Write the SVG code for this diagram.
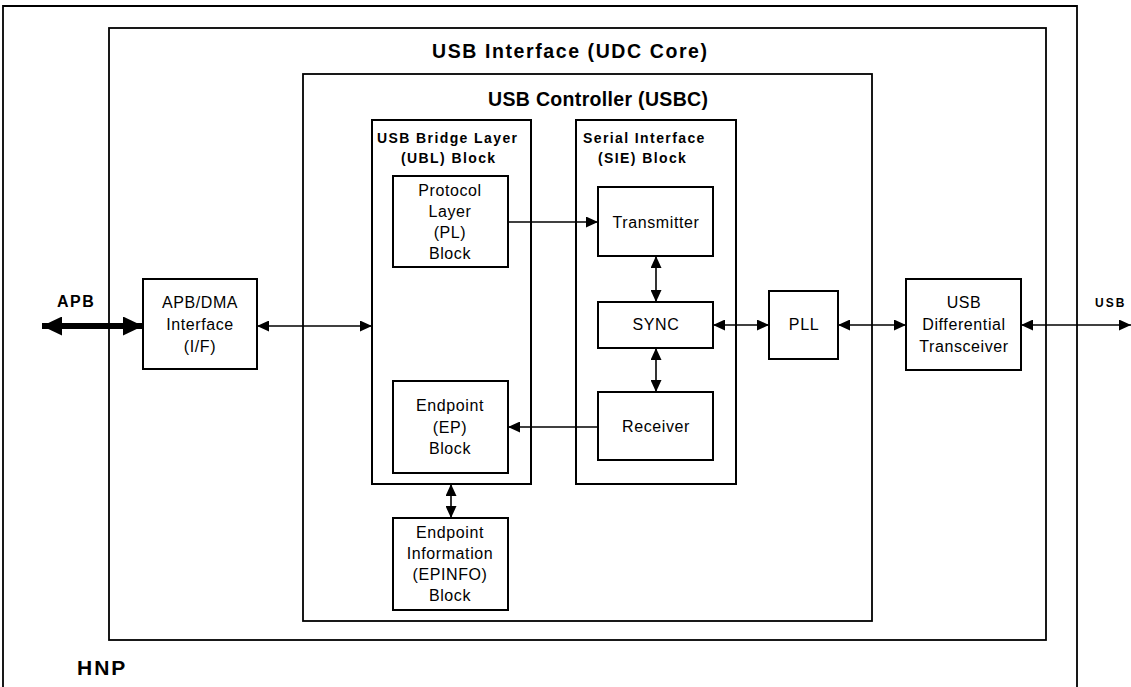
<svg xmlns="http://www.w3.org/2000/svg" width="1131" height="687" viewBox="0 0 1131 687">
<defs>
<style>
.box{fill:#fff;stroke:#000;stroke-width:2}
.frame{fill:none;stroke:#000;stroke-width:1.8}
.t{font-family:"Liberation Sans",Arial,sans-serif;font-size:16px;letter-spacing:0.6px;fill:#000;text-anchor:middle}
.h{font-family:"Liberation Sans",Arial,sans-serif;font-size:19.5px;font-weight:bold;fill:#000}
.b{font-family:"Liberation Sans",Arial,sans-serif;font-size:14px;font-weight:bold;fill:#000;letter-spacing:1.4px}
.c{fill:none;stroke:#000;stroke-width:1.6}
</style>
<marker id="ah" viewBox="0 0 12 11" refX="12" refY="5.5" markerWidth="12" markerHeight="11" markerUnits="userSpaceOnUse" orient="auto-start-reverse">
<path d="M0,0 L12,5.5 L0,11 z" fill="#000"/>
</marker>
<marker id="ahb" viewBox="0 0 20 19" refX="20" refY="9.5" markerWidth="20" markerHeight="19" markerUnits="userSpaceOnUse" orient="auto-start-reverse">
<path d="M0,0 L20,9.5 L0,19 z" fill="#000"/>
</marker>
</defs>
<rect width="1131" height="687" fill="#fff"/>
<g id="hnp">
<path class="frame" d="M3,700 L3,6 L1077,6 L1077,700"/>
<text class="h" x="77" y="675" style="font-size:21px;letter-spacing:2px">HNP</text>
</g>
<g id="udc">
<rect class="frame" x="109" y="28" width="937" height="612"/>
<text class="h" x="432" y="58" textLength="275">USB Interface (UDC Core)</text>
</g>
<g id="usbc">
<rect class="frame" x="303" y="74" width="569" height="547"/>
<text class="h" x="488" y="106" textLength="220">USB Controller (USBC)</text>
</g>
<g id="ubl">
<rect class="box" x="372" y="120" width="159" height="364"/>
<text class="b" x="377" y="143">USB Bridge Layer</text>
<text class="b" x="401" y="163">(UBL) Block</text>
</g>
<g id="sie">
<rect class="box" x="576" y="120" width="160" height="364"/>
<text class="b" x="583" y="143">Serial Interface</text>
<text class="b" x="598" y="163">(SIE) Block</text>
</g>
<g id="pl">
<rect class="box" x="393" y="176" width="115" height="91"/>
<text class="t" x="450" y="196">Protocol</text>
<text class="t" x="450" y="217">Layer</text>
<text class="t" x="450" y="238">(PL)</text>
<text class="t" x="450" y="259">Block</text>
</g>
<g id="ep">
<rect class="box" x="393" y="381" width="115" height="92"/>
<text class="t" x="450" y="411">Endpoint</text>
<text class="t" x="450" y="433">(EP)</text>
<text class="t" x="450" y="454">Block</text>
</g>
<g id="epinfo">
<rect class="box" x="393" y="518" width="115" height="92"/>
<text class="t" x="450" y="538">Endpoint</text>
<text class="t" x="450" y="559">Information</text>
<text class="t" x="450" y="580">(EPINFO)</text>
<text class="t" x="450" y="601">Block</text>
</g>
<g id="tx">
<rect class="box" x="598" y="187" width="115" height="69"/>
<text class="t" x="656" y="228">Transmitter</text>
</g>
<g id="sync">
<rect class="box" x="598" y="302" width="115" height="46"/>
<text class="t" x="656" y="330">SYNC</text>
</g>
<g id="rx">
<rect class="box" x="598" y="392" width="115" height="68"/>
<text class="t" x="656" y="432">Receiver</text>
</g>
<g id="apbdma">
<rect class="box" x="143" y="279" width="114" height="90"/>
<text class="t" x="200" y="308">APB/DMA</text>
<text class="t" x="200" y="330">Interface</text>
<text class="t" x="200" y="352">(I/F)</text>
</g>
<g id="pll">
<rect class="box" x="769" y="291" width="69" height="68"/>
<text class="t" x="804" y="330">PLL</text>
</g>
<g id="xcvr">
<rect class="box" x="906" y="279" width="115" height="91"/>
<text class="t" x="964" y="308">USB</text>
<text class="t" x="964" y="330">Differential</text>
<text class="t" x="964" y="352">Transceiver</text>
</g>
<g id="labels">
<text class="b" x="57" y="307" style="font-size:16px;letter-spacing:1.5px">APB</text>
<text class="b" x="1095" y="307" style="font-size:12px;letter-spacing:2px">USB</text>
</g>
<g id="connectors">
<line x1="42" y1="326" x2="143" y2="326" stroke="#000" stroke-width="6" marker-start="url(#ahb)" marker-end="url(#ahb)"/>
<line class="c" x1="257" y1="326" x2="372" y2="326" marker-start="url(#ah)" marker-end="url(#ah)"/>
<line class="c" x1="508" y1="222" x2="598" y2="222" marker-end="url(#ah)"/>
<line class="c" x1="656" y1="256" x2="656" y2="302" marker-start="url(#ah)" marker-end="url(#ah)"/>
<line class="c" x1="656" y1="348" x2="656" y2="392" marker-start="url(#ah)" marker-end="url(#ah)"/>
<line class="c" x1="598" y1="427" x2="508" y2="427" marker-end="url(#ah)"/>
<line class="c" x1="451" y1="484" x2="451" y2="518" marker-start="url(#ah)" marker-end="url(#ah)"/>
<line class="c" x1="713" y1="325" x2="769" y2="325" marker-start="url(#ah)" marker-end="url(#ah)"/>
<line class="c" x1="838" y1="325" x2="906" y2="325" marker-start="url(#ah)" marker-end="url(#ah)"/>
<line class="c" x1="1021" y1="325" x2="1131" y2="325" marker-start="url(#ah)" marker-end="url(#ah)"/>
</g>
</svg>
